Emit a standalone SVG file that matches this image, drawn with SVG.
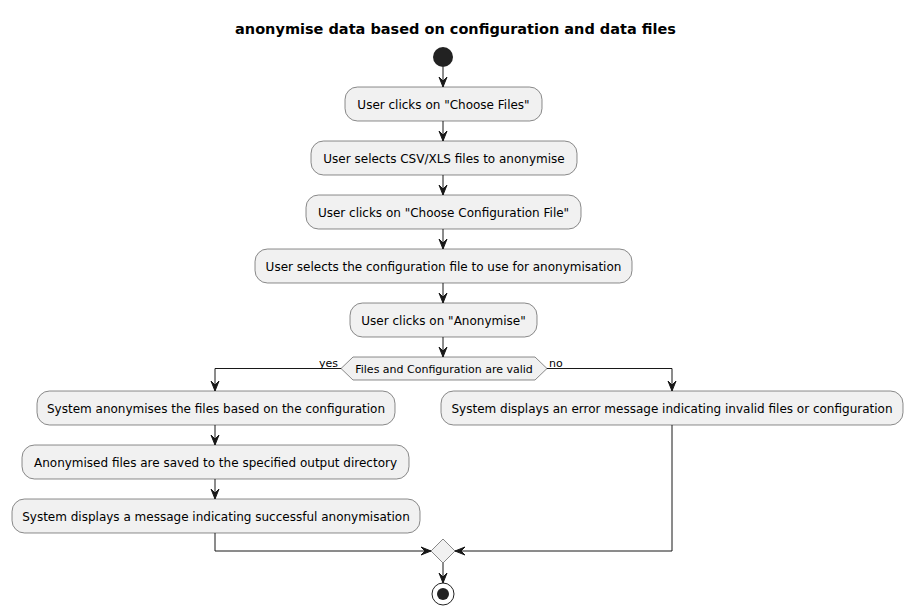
<svg xmlns="http://www.w3.org/2000/svg" width="913" height="615" viewBox="0 0 913 615">
<style>
.box{fill:#F1F1F1;stroke:#181818;stroke-width:0.5}
.t{font-family:"DejaVu Sans",sans-serif;font-size:12px;fill:#000;text-anchor:middle}
.s{font-family:"DejaVu Sans",sans-serif;font-size:11px;fill:#000}
.ln{fill:none;stroke:#181818;stroke-width:1}
.ah{fill:#181818;stroke:#181818;stroke-width:1}
</style>
<rect width="913" height="615" fill="#FFFFFF"/>
<text x="455.5" y="34" style="font-family:'DejaVu Sans',sans-serif;font-size:14.5px;font-weight:bold;text-anchor:middle">anonymise data based on configuration and data files</text>
<g id="start"><circle cx="443" cy="57" r="10" fill="#222222"/></g>
<g id="n1"><rect class="box" x="345" y="87" width="197" height="34" rx="12.5"/><text class="t" x="443.5" y="108.5">User clicks on "Choose Files"</text></g>
<g id="n2"><rect class="box" x="311" y="141" width="266" height="34" rx="12.5"/><text class="t" x="444" y="162.5">User selects CSV/XLS files to anonymise</text></g>
<g id="n3"><rect class="box" x="306" y="195" width="275" height="34" rx="12.5"/><text class="t" x="443.5" y="216.5">User clicks on "Choose Configuration File"</text></g>
<g id="n4"><rect class="box" x="255" y="249" width="377" height="34" rx="12.5"/><text class="t" x="443.5" y="270.5">User selects the configuration file to use for anonymisation</text></g>
<g id="n5"><rect class="box" x="350" y="303" width="187" height="34" rx="12.5"/><text class="t" x="443.5" y="324.5">User clicks on "Anonymise"</text></g>
<g id="d1"><polygon class="box" points="353,357 535,357 547,368.5 535,380 353,380 341,368.5"/><text class="s" x="444" y="372.5" text-anchor="middle">Files and Configuration are valid</text></g>
<g id="l1"><rect class="box" x="37" y="391" width="358" height="34" rx="12.5"/><text class="t" x="216" y="412.5">System anonymises the files based on the configuration</text></g>
<g id="l2"><rect class="box" x="22" y="445" width="387" height="34" rx="12.5"/><text class="t" x="215.5" y="466.5">Anonymised files are saved to the specified output directory</text></g>
<g id="l3"><rect class="box" x="12" y="499" width="408" height="34" rx="12.5"/><text class="t" x="216" y="520.5">System displays a message indicating successful anonymisation</text></g>
<g id="r1"><rect class="box" x="441" y="391" width="462" height="34" rx="12.5"/><text class="t" x="672" y="412.5">System displays an error message indicating invalid files or configuration</text></g>
<g id="merge"><polygon class="box" points="443,539 455,551 443,563 431,551"/></g>
<g id="end"><circle cx="443" cy="594" r="11" fill="none" stroke="#222222" stroke-width="1"/><circle cx="443" cy="594" r="6" fill="#222222"/></g>
<g id="connectors">
<path class="ln" d="M443,67 V87"/><polygon class="ah" points="439,77 443,87 447,77 443,81"/>
<path class="ln" d="M443,121 V141"/><polygon class="ah" points="439,131 443,141 447,131 443,135"/>
<path class="ln" d="M443,175 V195"/><polygon class="ah" points="439,185 443,195 447,185 443,189"/>
<path class="ln" d="M443,229 V249"/><polygon class="ah" points="439,239 443,249 447,239 443,243"/>
<path class="ln" d="M443,283 V303"/><polygon class="ah" points="439,293 443,303 447,293 443,297"/>
<path class="ln" d="M443,337 V357"/><polygon class="ah" points="439,347 443,357 447,347 443,351"/>
<path class="ln" d="M341,368.5 H215 V391"/><polygon class="ah" points="211,381 215,391 219,381 215,385"/>
<text class="s" x="319" y="367">yes</text>
<path class="ln" d="M547,368.5 H672 V391"/><polygon class="ah" points="668,381 672,391 676,381 672,385"/>
<text class="s" x="549" y="367">no</text>
<path class="ln" d="M215,425 V445"/><polygon class="ah" points="211,435 215,445 219,435 215,439"/>
<path class="ln" d="M215,479 V499"/><polygon class="ah" points="211,489 215,499 219,489 215,493"/>
<path class="ln" d="M215,533 V551 H431"/><polygon class="ah" points="421,547 431,551 421,555 425,551"/>
<path class="ln" d="M672,425 V551 H455"/><polygon class="ah" points="465,547 455,551 465,555 461,551"/>
<path class="ln" d="M443,563 V583"/><polygon class="ah" points="439,573 443,583 447,573 443,577"/>
</g>
</svg>
